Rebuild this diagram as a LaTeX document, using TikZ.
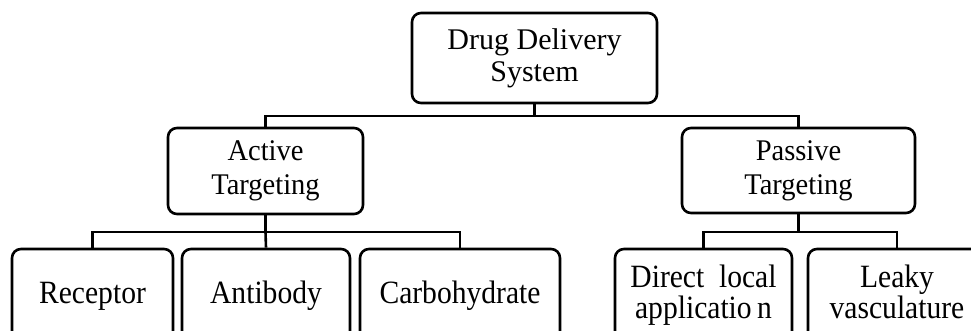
\documentclass[tikz,border=0pt]{standalone}
\usepackage{fontspec}
\setmainfont{Liberation Serif}
\newfontfamily\midfont[FakeStretch=0.95]{Liberation Serif}
\newfontfamily\lowfont[FakeStretch=0.91]{Liberation Serif}
\begin{document}
\begin{tikzpicture}[x=1pt,y=-1pt,
  box/.style={draw, line width=2.6pt, rounded corners=9pt, align=center,
    inner sep=0pt},
  topbox/.style={box, font=\fontsize{30}{32}\selectfont},
  midbox/.style={box, font=\midfont\fontsize{30}{34}\selectfont},
  lowbox/.style={box, font=\lowfont\fontsize{32.5}{31}\selectfont, minimum height=93pt},
  link/.style={line width=2.6pt}]
\useasboundingbox (0,0) rectangle (971,331);
\clip (0,0) rectangle (971,331);
\node[topbox, minimum width=245pt, minimum height=90pt] (dds) at (534.5,58) {Drug Delivery\\System};
\node[midbox, minimum width=195pt, minimum height=86pt] (act) at (265.5,171) {Active\\Targeting};
\node[midbox, minimum width=233pt, minimum height=85pt] (pas) at (798.5,170.5) {Passive\\Targeting};
\node[lowbox, minimum width=161pt] (rec) at (92.5,295.5) {Receptor\vphantom{bdy}};
\node[lowbox, minimum width=168pt] (ant) at (266,295.5) {Antibody\vphantom{bdy}};
\node[lowbox, minimum width=200pt] (car) at (460,295.5) {Carbohydrate\vphantom{bdy}};
\node[lowbox, minimum width=177pt] (dir) at (703.5,295.5) {Direct \ local\\applicatio\,n};
\node[lowbox, minimum width=178pt] (lea) at (897,295.5) {Leaky\\vasculature\vphantom{p}};
\coordinate (b1) at (534.5,116);
\coordinate (b2) at (265.5,232);
\coordinate (b3) at (798.5,232);
\draw[link] (dds.south) -- (b1);
\draw[link] (act.north) |- (b1) -| (pas.north);
\draw[link] (act.south) -- (b2);
\draw[link] (rec.north) |- (b2) -| (car.north);
\draw[link] (b2) -- (ant.north);
\draw[link] (pas.south) -- (b3);
\draw[link] (dir.north) |- (b3) -| (lea.north);
\end{tikzpicture}
\end{document}
